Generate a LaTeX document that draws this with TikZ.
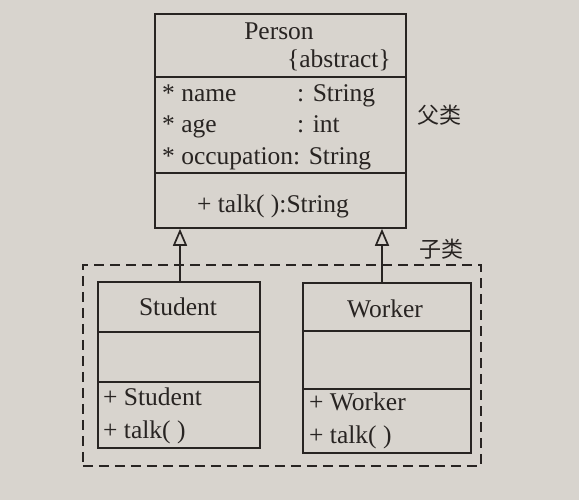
\documentclass[tikz,border=0pt]{standalone}
\usepackage{fontspec}
\setmainfont{Liberation Serif}
\newfontfamily\cjk{Noto Sans CJK SC}
\usetikzlibrary{arrows.meta}
\definecolor{paper}{RGB}{216,212,206}
\definecolor{ink}{RGB}{40,36,34}
\begin{document}
\begin{tikzpicture}[x=1pt,y=-1pt,
  box/.style={draw=ink, line width=1.8pt, fill=paper, inner sep=0pt, anchor=north west},
  sep/.style={draw=ink, line width=1.7pt},
  txt/.style={text=ink, inner sep=0pt, font=\fontsize{25.5}{29}\selectfont},
  cn/.style={text=ink, inner sep=0pt, font=\cjk\fontsize{22}{26}\selectfont},
  inh/.style={draw=ink, line width=1.7pt, -{Triangle[open, length=17pt, width=14pt, fill=paper]}},
  grp/.style={draw=ink, line width=1.8pt, dash pattern=on 10pt off 6pt}]
\fill[paper] (0,0) rectangle (579,500);
\useasboundingbox (0,0) rectangle (579,500);
% group frame
\node[grp, inner sep=0pt, anchor=north west, minimum width=398pt, minimum height=201pt] (group) at (82,264) {};
% Person
\node[box, minimum width=251pt, minimum height=214pt] (person) at (154,13) {};
\coordinate (p1l) at (154,77); \coordinate (p1r) at (405,77);
\coordinate (p2l) at (154,173); \coordinate (p2r) at (405,173);
\draw[sep] (p1l) -- (p1r);
\draw[sep] (p2l) -- (p2r);
\node[txt, anchor=base] (pname) at (279,40) {Person};
\node[txt, anchor=base east] (pabs) at (391,68) {\{abstract\}};
\node[txt, anchor=base west] (a1) at (162,102) {* name};
\node[txt, anchor=base west] (a1t) at (297,102) {: String};
\node[txt, anchor=base west] (a2) at (162,133) {* age};
\node[txt, anchor=base west] (a2t) at (297,133) {: int};
\node[txt, anchor=base west] (a3) at (162,165) {* occupation: String};
\node[txt, anchor=base] (m1) at (273,213) {+ talk( ):String};
\node[cn, anchor=base west] (fu) at (417,124) {父类};
% Student
\node[box, minimum width=162pt, minimum height=166pt] (student) at (97,281) {};
\coordinate (s1l) at (97,332); \coordinate (s1r) at (259,332);
\coordinate (s2l) at (97,382); \coordinate (s2r) at (259,382);
\draw[sep] (s1l) -- (s1r);
\draw[sep] (s2l) -- (s2r);
\node[txt, anchor=base] (sname) at (178,315) {Student};
\node[txt, anchor=base west] (sm1) at (103,405) {+ Student};
\node[txt, anchor=base west] (sm2) at (103,438) {+ talk( )};
% Worker
\node[box, minimum width=168pt, minimum height=170pt] (worker) at (302,282) {};
\coordinate (w1l) at (302,331); \coordinate (w1r) at (470,331);
\coordinate (w2l) at (302,389); \coordinate (w2r) at (470,389);
\draw[sep] (w1l) -- (w1r);
\draw[sep] (w2l) -- (w2r);
\node[txt, anchor=base] (wname) at (385,317) {Worker};
\node[txt, anchor=base west] (wm1) at (309,410) {+ Worker};
\node[txt, anchor=base west] (wm2) at (309,443) {+ talk( )};
\node[cn, anchor=base west] (zi) at (419,258) {子类};
% inheritance
\coordinate (sa) at (180,281);
\coordinate (wa) at (382,282);
\draw[inh] (sa) -- (sa |- person.south);
\draw[inh] (wa) -- (wa |- person.south);
\end{tikzpicture}
\end{document}
